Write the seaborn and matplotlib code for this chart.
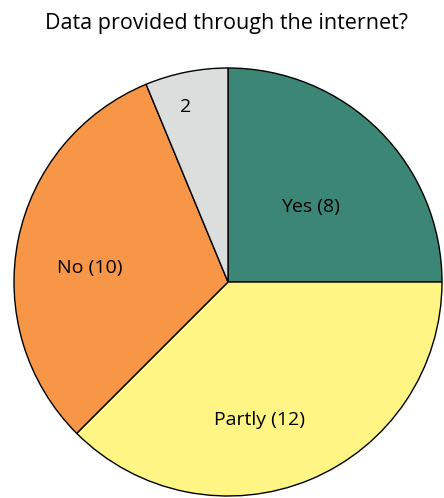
import matplotlib
matplotlib.use("Agg")
import matplotlib.pyplot as plt
import seaborn as sns

# Survey answers: was the data provided through the internet?
categories = ["Yes", "Partly", "No", "Other"]
counts = [8, 12, 10, 2]
labels = ["Yes (8)", "Partly (12)", "No (10)", "2"]
colors = ["#3C8676", "#FFF584", "#F79646", "#DCDDDD"]

# label anchor points, in units of the pie radius
label_pos = [(0.383, 0.35), (0.147, -0.645), (-0.645, 0.065), (-0.196, 0.818)]

sns.set_theme(style="white")
plt.rcParams["font.family"] = ["Open Sans", "DejaVu Sans"]

fig = plt.figure(figsize=(4.44, 4.98), dpi=100)
ax = fig.add_axes([0, 0, 1, 1])

ax.pie(counts, colors=colors, startangle=90, counterclock=False,
       radius=1.0, center=(0, 0),
       wedgeprops=dict(edgecolor="black", linewidth=1.0))

for (x, y), txt in zip(label_pos, labels):
    ax.text(x, y, txt, ha="center", va="center", fontsize=14, color="black")

ax.set_xlim(-228 / 214, (444 - 228) / 214)
ax.set_ylim((282 - 498) / 214, 282 / 214)
ax.set_aspect("auto")
ax.axis("off")

fig.text(0.51, 1 - 24 / 498, "Data provided through the internet?",
         ha="center", va="center", fontsize=15.5, color="black")

fig.savefig("out.png", dpi=100)
